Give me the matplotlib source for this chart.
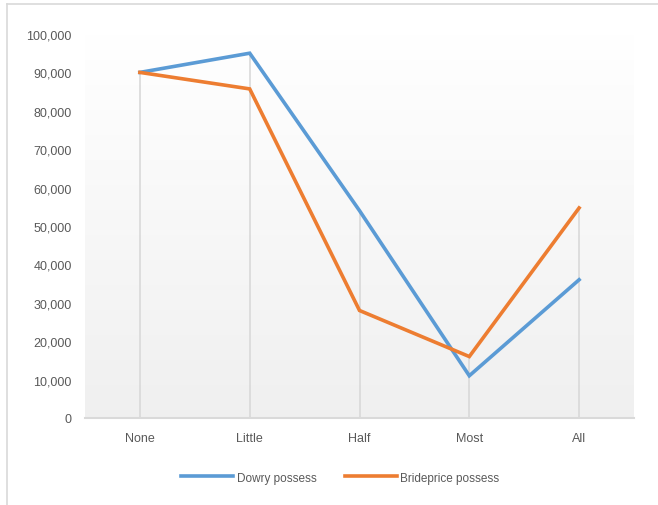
import numpy as np
import matplotlib.pyplot as plt
from matplotlib.lines import Line2D
from matplotlib.ticker import FuncFormatter

plt.rcParams['font.family'] = ['Liberation Sans', 'DejaVu Sans']

categories = ['None', 'Little', 'Half', 'Most', 'All']
dowry = [90000, 95000, 54000, 11000, 36000]
brideprice = [90000, 85700, 28000, 16000, 54700]

fig = plt.figure(figsize=(6.58, 5.06), dpi=100)
ax = fig.add_axes([85 / 658, 1 - 419 / 506, 549 / 658, 384 / 506])

x = np.arange(len(categories))

# gradient background, white at top to light grey at bottom
grad = np.linspace(1.0, 0.94, 256).reshape(-1, 1)
ax.imshow(np.dstack([grad, grad, grad]), extent=[-0.5, 4.5, 0, 100000],
          aspect='auto', origin='upper', zorder=0)

# drop lines from the highest point of each category
tops = np.maximum(dowry, brideprice)
ax.vlines(x, 0, tops, color='#d9d9d9', linewidth=1.2, zorder=1)

ax.plot(x, dowry, color='#5B9BD5', linewidth=2.6, label='Dowry possess',
        solid_joinstyle='miter', zorder=3)
ax.plot(x, brideprice, color='#ED7D31', linewidth=2.6, label='Brideprice possess',
        solid_joinstyle='miter', zorder=3)

ax.set_xlim(-0.5, 4.5)
ax.set_ylim(0, 100000)
ax.set_xticks(x)
ax.set_xticklabels(categories)
ax.set_yticks(range(0, 100001, 10000))
ax.yaxis.set_major_formatter(FuncFormatter(lambda v, p: f'{int(v):,}'))
ax.tick_params(length=0, labelsize=9, colors='#595959')
ax.tick_params(axis='x', pad=10)
ax.tick_params(axis='y', pad=9.5)
for side in ['top', 'right', 'left']:
    ax.spines[side].set_visible(False)
ax.spines['bottom'].set_color('#d9d9d9')
ax.spines['bottom'].set_linewidth(1.5)

ax.legend(loc='center', bbox_to_anchor=(0.465, -0.155), ncol=2, frameon=False,
          fontsize=8.5, labelcolor='#595959', handlelength=4.4, columnspacing=2.4,
          handletextpad=0.3)

# outer chart border (left and top visible)
fig.add_artist(Line2D([7 / 658, 7 / 658], [0, 1 - 5 / 506], color='#d9d9d9', linewidth=1.2))
fig.add_artist(Line2D([7 / 658, 1], [1 - 5 / 506, 1 - 5 / 506], color='#d9d9d9', linewidth=1.2))

fig.savefig('out.png', dpi=100)
